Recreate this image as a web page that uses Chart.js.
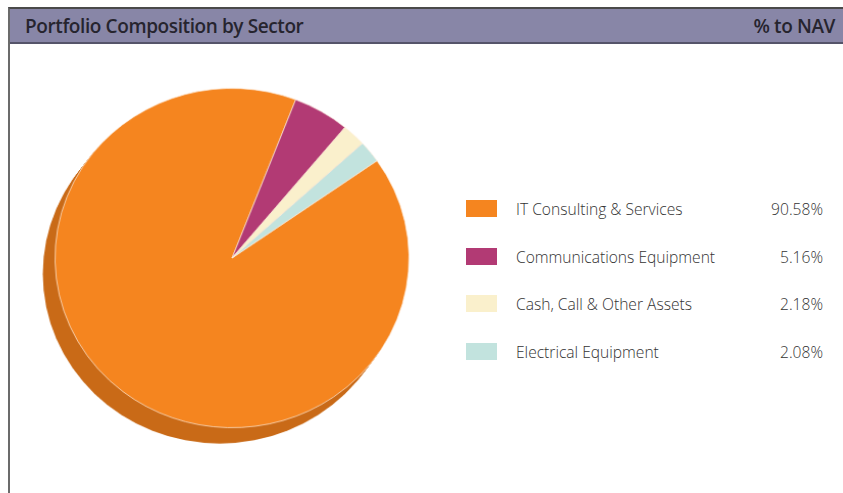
<!DOCTYPE html>
<html>
<head>
<meta charset="utf-8">
<script src="https://cdn.jsdelivr.net/npm/chart.js@4"></script>
<style>
  html, body { margin: 0; padding: 0; background: #fff; }
  body { width: 843px; height: 493px; position: relative; overflow: hidden; font-family: "Open Sans", sans-serif; }
  .frame { position: absolute; left: 8px; top: 7px; width: 845px; height: 500px; border-left: 2px solid #6b6b6b; border-top: 2px solid #4a4a4a; }
  .header { position: absolute; left: 10px; top: 9px; width: 833px; height: 33px; background: #8886a7; border-bottom: 2px solid #55546a; }
  .header span { position: absolute; top: 4px; font-size: 19px; font-weight: 600; color: #26242e; letter-spacing: -0.4px; }
  .header .title { left: 15px; }
  .header .nav { right: 8px; }
  #wrap { position: absolute; left: 30px; top: 70px; width: 404px; height: 400px; transform: scale(1.02, 0.978); transform-origin: 202px 188px; }
  .legend { position: absolute; left: 466px; top: 0; width: 360px; }
  .row { position: absolute; left: 0; width: 357px; height: 20px; font-size: 15.6px; color: #333; font-weight: 300; }
  .row .sw { position: absolute; left: 0; top: 1px; width: 31px; height: 17px; }
  .row .lab { position: absolute; left: 50px; top: -1px; }
  .row .val { position: absolute; right: 0; top: -1px; }
</style>
</head>
<body>
<div class="frame"></div>
<div class="header"><span class="title">Portfolio Composition by Sector</span><span class="nav">% to NAV</span></div>
<div id="wrap"><canvas id="pieChart"></canvas></div>
<div class="legend" id="legend"></div>
<script>
// du lieu
const sectors = ['IT Consulting & Services', 'Communications Equipment', 'Cash, Call & Other Assets', 'Electrical Equipment'];
const navPct = [90.58, 5.16, 2.18, 2.08];
const sliceColors = ['#f5851f', '#b23a74', '#faf0cc', '#c2e3de'];
const shadowColor = '#c96a17';

// bong do 3D phia duoi mieng banh
const pieShadow = {
    id: 'pieShadow',
    beforeDatasetsDraw(chart) {
        const arc = chart.getDatasetMeta(0).data[0];
        if (!arc) return;
        const { x, y, outerRadius } = arc.getProps(['x', 'y', 'outerRadius'], true);
        const ctx = chart.ctx;
        ctx.save();
        ctx.fillStyle = shadowColor;
        for (let i = 1; i <= 12; i++) {
            ctx.beginPath();
            ctx.arc(x - i, y + i * 1.35, outerRadius, 0, Math.PI * 2);
            ctx.fill();
        }
        ctx.restore();
    }
};

const ctxPie = document.getElementById('pieChart').getContext('2d');
const pieChart = new Chart(ctxPie, {
    type: 'pie',
    data: {
        labels: sectors,
        datasets: [{
            data: navPct,
            backgroundColor: sliceColors,
            borderColor: 'rgba(255,240,225,0.7)',
            borderWidth: 1
        }]
    },
    options: {
        responsive: true,
        maintainAspectRatio: false,
        animation: false,
        rotation: 55,
        layout: { padding: { left: 28, right: 28, top: 14, bottom: 38 } },
        plugins: {
            legend: { display: false },
            tooltip: { enabled: false }
        }
    },
    plugins: [pieShadow]
});

// chu giai ben phai
const legendEl = document.getElementById('legend');
const rowTops = [199, 247, 294, 342];
sectors.forEach((name, i) => {
    const row = document.createElement('div');
    row.className = 'row';
    row.style.top = rowTops[i] + 'px';
    row.innerHTML = `<div class="sw" style="background:${sliceColors[i]}"></div>` +
        `<span class="lab">${name.replace('&', '&amp;')}</span>` +
        `<span class="val">${navPct[i].toFixed(2)}%</span>`;
    legendEl.appendChild(row);
});
</script>
</body>
</html>
